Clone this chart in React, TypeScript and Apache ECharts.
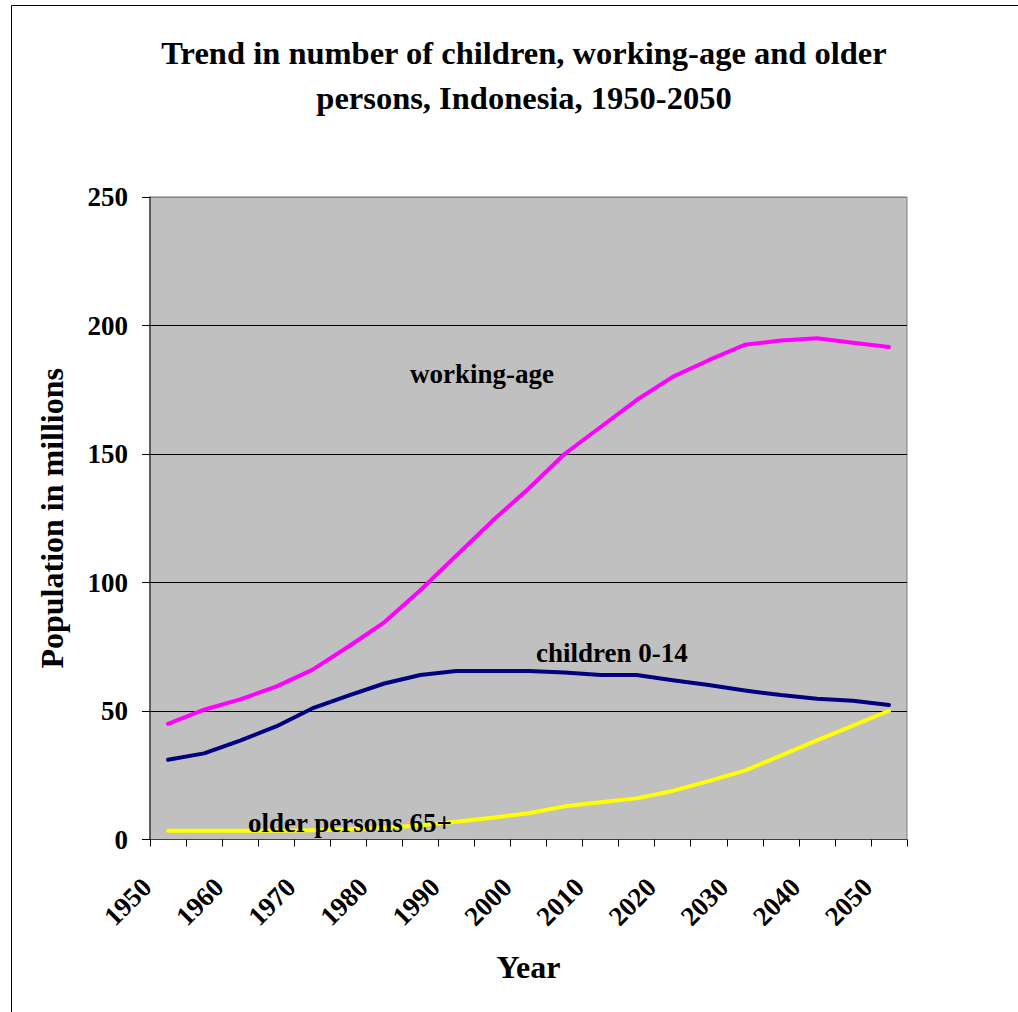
import React, { useEffect, useRef } from "react";
import * as echarts from "echarts";

const years = [
  "1950", "1955", "1960", "1965", "1970", "1975", "1980", "1985", "1990", "1995",
  "2000", "2005", "2010", "2015", "2020", "2025", "2030", "2035", "2040", "2045", "2050",
];
const workingAge = [45, 50.5, 54.5, 59.5, 66, 75, 84.5, 97, 110.5, 124, 136.5, 150, 160.5, 171, 180, 186.5, 192.5, 194.2, 195, 193.3, 191.6];
const children = [31, 33.5, 38.5, 44, 51, 56, 60.7, 64, 65.6, 65.6, 65.6, 65, 64, 64, 62, 60.1, 58, 56.2, 54.8, 54, 52.3];
const older = [3.4, 3.4, 3.4, 3.4, 3.6, 4.0, 4.6, 5.5, 6.9, 8.5, 10.2, 12.9, 14.5, 16, 18.9, 22.7, 26.8, 32.6, 38.6, 44.3, 50.1];

const titleText = "Trend in number of children, working-age and older\npersons, Indonesia, 1950-2050";
const yName = "Population in millions";
const xName = "Year";
const annotations = ["working-age", "children 0-14", "older persons 65+"];

const FONT = "'Liberation Serif', 'Times New Roman', serif";

export default function App() {
  const ref = useRef<HTMLDivElement>(null);
  useEffect(() => {
    if (!ref.current) return;
    const chart = echarts.init(ref.current, undefined, { renderer: "svg" });
    const txt = (size: number) => ({ fontSize: size, fontWeight: "bold" as const, fontFamily: FONT, color: "#000" });
    chart.setOption({
      animation: false,
      backgroundColor: "#fff",
      title: {
        text: titleText,
        left: 524,
        top: 30,
        padding: 0,
        textAlign: "center",
        textStyle: { ...txt(32.5), lineHeight: 45 },
      },
      grid: {
        left: 150,
        right: 111,
        top: 197,
        bottom: 172.5,
        show: true,
        backgroundColor: "#c0c0c0",
        borderColor: "#808080",
        borderWidth: 1,
        containLabel: false,
        outerBoundsMode: "none",
      },
      xAxis: {
        type: "category",
        data: years,
        boundaryGap: true,
        axisLine: { lineStyle: { color: "#404040", width: 1 } },
        axisTick: { show: true, interval: 0, length: 7, lineStyle: { color: "#000" } },
        axisLabel: { interval: 1, rotate: 45, margin: 22, padding: [0, 30, 0, 0], ...txt(27) },
        splitLine: { show: false },
        name: xName,
        nameLocation: "middle",
        nameGap: 111,
        nameTextStyle: txt(32),
      },
      yAxis: {
        type: "value",
        min: 0,
        max: 250,
        interval: 50,
        axisLine: { show: true, lineStyle: { color: "#404040", width: 1.5 } },
        axisTick: { show: true, length: 8, lineStyle: { color: "#000" } },
        axisLabel: { margin: 22, ...txt(27) },
        splitLine: {
          show: true,
          lineStyle: { color: ["#000", "#000", "#000", "#000", "#000", "#808080"], width: 1 },
        },
        name: yName,
        nameLocation: "middle",
        nameRotate: 90,
        nameGap: 82,
        nameTextStyle: txt(32),
      },
      series: [
        { name: "working-age", type: "line", data: workingAge, symbol: "none", lineStyle: { color: "#ff00ff", width: 4, cap: "round", join: "round" }, itemStyle: { color: "#ff00ff" } },
        { name: "children 0-14", type: "line", data: children, symbol: "none", lineStyle: { color: "#000080", width: 4, cap: "round", join: "round" }, itemStyle: { color: "#000080" } },
        { name: "older persons 65+", type: "line", data: older, symbol: "none", lineStyle: { color: "#ffff00", width: 4, cap: "round", join: "round" }, itemStyle: { color: "#ffff00" } },
      ],
      graphic: [
        {
          type: "rect",
          z: -1,
          silent: true,
          shape: { x: 11.5, y: 5.5, width: 1100, height: 1100 },
          style: { fill: "none", stroke: "#000", lineWidth: 1 },
        },
        { type: "text", z: 100, x: 410, y: 374, style: { text: annotations[0], ...txt(27), fill: "#000", verticalAlign: "middle", align: "left" } },
        { type: "text", z: 100, x: 536, y: 653, style: { text: annotations[1], ...txt(27), fill: "#000", verticalAlign: "middle", align: "left" } },
        { type: "text", z: 100, x: 248, y: 823, style: { text: annotations[2], ...txt(27), fill: "#000", verticalAlign: "middle", align: "left" } },
      ],
    });
    return () => chart.dispose();
  }, []);
  return <div ref={ref} style={{ position: "absolute", left: 0, top: 0, width: 1018, height: 1012 }} />;
}
